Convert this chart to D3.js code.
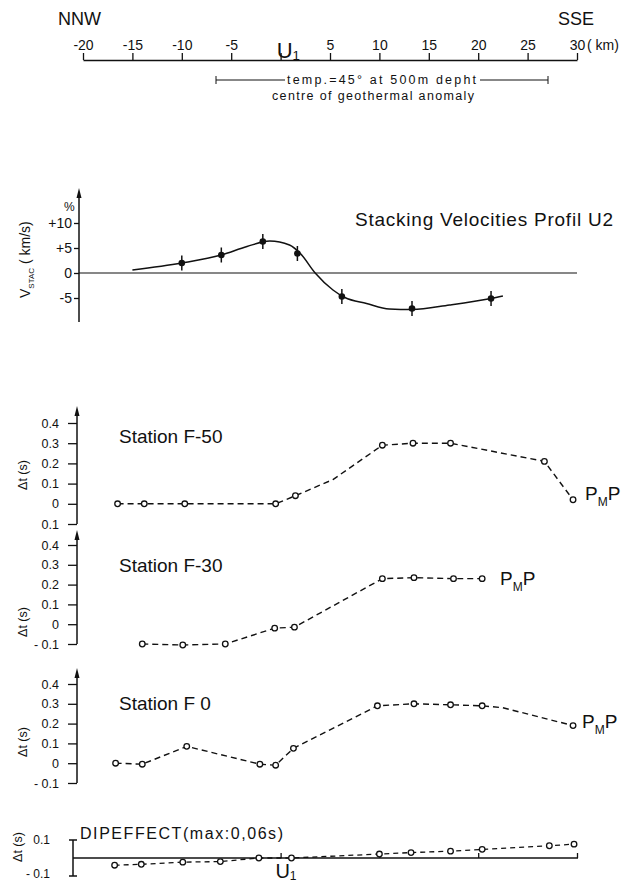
<!DOCTYPE html>
<html>
<head>
<meta charset="utf-8">
<script src="https://cdn.jsdelivr.net/npm/d3@7"></script>
<style>
  body { margin: 0; background: #fff; }
  text { font-family: "Liberation Sans", Arial, sans-serif; fill: #111; }
</style>
</head>
<body>
<div id="chart"></div>
<script>
const width = 629
const height = 883

// profile distance (km) along NNW-SSE line
const topTicks = [-20, -15, -10, -5, 0, 5, 10, 15, 20, 25, 30]
const topLabels = ["-20", "-15", "-10", "-5", "U1", "5", "10", "15", "20", "25", "30"]

// stacking velocities (%)
const stacKm = [-10, -6, -1.8, 1.7, 6.2, 13.3, 21.3]
const stacVel = [2.0, 3.6, 6.3, 3.9, -4.7, -7.1, -5.1]
const stacErr = [1.5, 1.5, 1.5, 1.5, 1.5, 1.5, 1.5]
const stacCurveKm = [-15, -10, -6, -3.4, -1.1, 0.9, 2, 3.5, 5.3, 6.5, 8.7, 11, 13.3, 17.1, 21.3, 22.5]
const stacCurveVel = [0.6, 2.0, 3.6, 5.3, 6.4, 5.6, 3.9, 0, -3.4, -4.9, -6.1, -7.2, -7.3, -6.4, -5.1, -4.6]
const stacTicks = [10, 5, 0, -5]
const stacLabels = ["+10", "+5", "0", "-5"]

// travel time delays (s)
const dtTicks = [0.4, 0.3, 0.2, 0.1, 0, -0.1]
const f50Km = [-16.5, -13.8, -9.7, -0.5, 1.5, 5.3, 10.3, 13.4, 17.2, 26.7, 29.6]
const f50Dt = [0, 0, 0, 0, 0.04, 0.12, 0.29, 0.30, 0.30, 0.21, 0.02]
const f50Mark = [1, 1, 1, 1, 1, 0, 1, 1, 1, 1, 1]

const f30Km = [-14, -9.9, -5.6, -0.6, 1.4, 10.3, 13.5, 17.5, 20.4]
const f30Dt = [-0.10, -0.105, -0.10, -0.02, -0.015, 0.23, 0.235, 0.23, 0.23]
const f30Mark = [1, 1, 1, 1, 1, 1, 1, 1, 1]

const f0Km = [-16.7, -14, -9.5, -2.1, -0.5, 1.3, 9.8, 13.5, 17.2, 20.4, 22.5, 29.6]
const f0Dt = [0, -0.005, 0.085, -0.005, -0.01, 0.075, 0.29, 0.30, 0.295, 0.29, 0.28, 0.19]
const f0Mark = [1, 1, 1, 1, 1, 1, 1, 1, 1, 1, 0, 1]

const dipKm = [-16.8, -14.1, -9.9, -6.1, -2.2, 1.1, 10, 13.2, 17.2, 20.4, 27.2, 29.7]
const dipDt = [-0.04, -0.035, -0.023, -0.02, 0.0, 0.0, 0.022, 0.03, 0.038, 0.048, 0.068, 0.077]

const svg = d3.select("#chart")
  .append("svg")
    .attr("width", width)
    .attr("height", height)

const x = d3.scaleLinear().domain([-20, 30]).range([83, 577])

// ---------- top distance axis ----------
svg.append("text").attr("x", 58).attr("y", 25).style("font-size", "18px").text("NNW")
svg.append("text").attr("x", 558).attr("y", 25).style("font-size", "18px").text("SSE")

const topAxis = svg.append("g")
  .attr("transform", "translate(0,60)")
  .call(d3.axisTop(x).tickValues(topTicks).tickSize(7).tickSizeOuter(0).tickPadding(3)
    .tickFormat((d, i) => topLabels[i] == "U1" ? "" : topLabels[i]))
topAxis.selectAll("text").style("font-size", "14px").attr("fill", "#111")
topAxis.selectAll("line, path").attr("stroke", "#111").attr("stroke-width", 1.3)

function uLabel(g, cx, base, size) {
  const t = g.append("text").attr("x", cx - size * 0.36).attr("y", base).style("font-size", size + "px")
  t.append("tspan").text("U")
  t.append("tspan").attr("dy", 2).style("font-size", (size * 0.6) + "px").text("1")
}
uLabel(svg, x(0) + 4, 58, 22)
svg.append("text").attr("x", 587).attr("y", 50).style("font-size", "14px").text("( km)")

// geothermal anomaly bar
const bar = svg.append("g").attr("stroke", "#111").attr("stroke-width", 1)
bar.append("line").attr("x1", 216).attr("x2", 285).attr("y1", 80).attr("y2", 80)
bar.append("line").attr("x1", 480).attr("x2", 548).attr("y1", 80).attr("y2", 80)
bar.append("line").attr("x1", 216).attr("x2", 216).attr("y1", 76).attr("y2", 84)
bar.append("line").attr("x1", 548).attr("x2", 548).attr("y1", 76).attr("y2", 84)
svg.append("text").attr("x", 287).attr("y", 84).style("font-size", "12.5px")
  .attr("textLength", 189).attr("lengthAdjust", "spacing").text("temp.=45° at 500m depht")
svg.append("text").attr("x", 272).attr("y", 100).style("font-size", "12.5px")
  .attr("textLength", 202).attr("lengthAdjust", "spacing").text("centre of geothermal anomaly")

// ---------- arrow helper ----------
function yArrowAxis(xPos, yTop, yBottom) {
  svg.append("line").attr("x1", xPos).attr("x2", xPos).attr("y1", yTop + 4).attr("y2", yBottom)
    .attr("stroke", "#111").attr("stroke-width", 1.5)
  svg.append("path")
    .attr("d", d3.line()([[xPos - 2.5, yTop + 10], [xPos, yTop], [xPos + 2.5, yTop + 10]]) + "Z")
    .attr("fill", "#111")
}

// ---------- stacking velocities ----------
const yS = d3.scaleLinear().domain([-5, 10]).range([298, 223])
yArrowAxis(79, 188, 322)
const sAxis = svg.append("g").attr("transform", "translate(79,0)")
  .call(d3.axisLeft(yS).tickValues(stacTicks).tickSize(5).tickPadding(2)
    .tickFormat((d, i) => stacLabels[i]))
sAxis.select(".domain").remove()
sAxis.selectAll("text").style("font-size", "14px").attr("fill", "#111")
sAxis.selectAll("line").attr("stroke", "#111").attr("stroke-width", 1.3)
svg.append("text").attr("x", 64).attr("y", 211).style("font-size", "12px").text("%")

svg.append("line").attr("x1", 79).attr("x2", 577).attr("y1", yS(0)).attr("y2", yS(0))
  .attr("stroke", "#111").attr("stroke-width", 1.2)

const vlab = svg.append("text").attr("transform", "translate(30,298) rotate(-90)").style("font-size", "14px")
vlab.append("tspan").text("V")
vlab.append("tspan").attr("dy", 4).style("font-size", "8px").text("STAC")
vlab.append("tspan").attr("dy", -4).text("   ( km/s)")

svg.append("text").attr("x", 355).attr("y", 226).style("font-size", "19px")
  .attr("textLength", 258).attr("lengthAdjust", "spacing").text("Stacking Velocities Profil U2")

const curveData = stacCurveKm.map((k, i) => [k, stacCurveVel[i]])
svg.append("path").datum(curveData)
  .attr("d", d3.line().x(d => x(d[0])).y(d => yS(d[1])).curve(d3.curveMonotoneX))
  .attr("fill", "none").attr("stroke", "#111").attr("stroke-width", 1.5)

const stacPts = stacKm.map((k, i) => ({ km: k, v: stacVel[i], e: stacErr[i] }))
svg.append("g").selectAll("line").data(stacPts).join("line")
  .attr("x1", d => x(d.km)).attr("x2", d => x(d.km))
  .attr("y1", d => yS(d.v + d.e)).attr("y2", d => yS(d.v - d.e))
  .attr("stroke", "#111").attr("stroke-width", 1.5)
svg.append("g").selectAll("circle").data(stacPts).join("circle")
  .attr("cx", d => x(d.km)).attr("cy", d => yS(d.v)).attr("r", 3.3).attr("fill", "#111")

// ---------- station panels ----------
function pmp(px, base) {
  const t = svg.append("text").attr("x", px).attr("y", base).style("font-size", "19px")
  t.append("tspan").text("P")
  t.append("tspan").attr("dy", 6).style("font-size", "12px").text("M")
  t.append("tspan").attr("dy", -6).text("P")
}

function station(km, dt, mark, yBottom, yTop, arrowTop, axisBottom, title, titleBase, tickFmt, labY, pmpPos) {
  const y = d3.scaleLinear().domain([-0.1, 0.4]).range([yBottom, yTop])
  yArrowAxis(77, arrowTop, axisBottom)
  const ax = svg.append("g").attr("transform", "translate(77,0)")
    .call(d3.axisLeft(y).tickValues(dtTicks).tickSize(9).tickPadding(9).tickFormat(tickFmt))
  ax.select(".domain").remove()
  ax.selectAll("text").style("font-size", "12.5px").attr("fill", "#111")
  ax.selectAll("line").attr("stroke", "#111").attr("stroke-width", 1.3)

  svg.append("text").attr("transform", `translate(27,${labY}) rotate(-90)`)
    .attr("text-anchor", "middle").style("font-size", "12.5px").text("Δt (s)")
  svg.append("text").attr("x", 119).attr("y", titleBase).style("font-size", "19px").text(title)

  const pts = km.map((k, i) => ({ km: k, dt: dt[i], m: mark[i] }))
  svg.append("path").datum(pts)
    .attr("d", d3.line().x(d => x(d.km)).y(d => y(d.dt)))
    .attr("fill", "none").attr("stroke", "#111").attr("stroke-width", 1.4)
    .attr("stroke-dasharray", "6,4")
  svg.append("g").selectAll("circle").data(pts.filter(d => d.m)).join("circle")
    .attr("cx", d => x(d.km)).attr("cy", d => y(d.dt)).attr("r", 2.8)
    .attr("fill", "#fff").attr("stroke", "#111").attr("stroke-width", 1.3)
  pmp(pmpPos[0], pmpPos[1])
}

const fmtPlain = d => d == 0 ? "0" : d3.format(".1f")(Math.abs(d))
const fmtSigned = d => d == 0 ? "0" : (d < 0 ? "- " : "") + d3.format(".1f")(Math.abs(d))

station(f50Km, f50Dt, f50Mark, 524, 423, 406, 524, "Station F-50", 443, fmtPlain, 475, [585, 500])
station(f30Km, f30Dt, f30Mark, 644, 545, 530, 644, "Station F-30", 572, fmtSigned, 622, [500, 585])
station(f0Km, f0Dt, f0Mark, 783, 684, 668, 783, "Station F 0", 710, fmtSigned, 742, [582, 728])

// ---------- dip effect ----------
const yD = d3.scaleLinear().domain([-0.1, 0.1]).range([876, 840])
const dip = svg.append("g").attr("stroke", "#111").attr("stroke-width", 1.5)
dip.append("line").attr("x1", 73).attr("x2", 73).attr("y1", yD(0.1)).attr("y2", yD(-0.1))
dip.append("line").attr("x1", 69).attr("x2", 77).attr("y1", yD(0.1)).attr("y2", yD(0.1))
dip.append("line").attr("x1", 69).attr("x2", 77).attr("y1", yD(-0.1)).attr("y2", yD(-0.1))
dip.append("line").attr("x1", 73).attr("x2", 578).attr("y1", yD(0)).attr("y2", yD(0))
const dipAxis = svg.append("g").attr("transform", `translate(0,${yD(0)})`)
  .call(d3.axisTop(x).tickValues([0, 10, 20, 30]).tickSize(5).tickSizeOuter(0).tickFormat(""))
dipAxis.select(".domain").remove()
dipAxis.selectAll("line").attr("stroke", "#111").attr("stroke-width", 1.3)

svg.append("text").attr("x", 50).attr("y", yD(0.1) + 4).attr("text-anchor", "end").style("font-size", "12px").text("0.1")
svg.append("text").attr("x", 50).attr("y", yD(-0.1) + 2).attr("text-anchor", "end").style("font-size", "12px").text("- 0.1")
svg.append("text").attr("transform", "translate(22,847) rotate(-90)")
  .attr("text-anchor", "middle").style("font-size", "12.5px").text("Δt (s)")
svg.append("text").attr("x", 80).attr("y", 839).style("font-size", "16px")
  .attr("textLength", 203).attr("lengthAdjust", "spacing").text("DIPEFFECT(max:0,06s)")

const dipPts = dipKm.map((k, i) => ({ km: k, dt: dipDt[i] }))
svg.append("path").datum(dipPts)
  .attr("d", d3.line().x(d => x(d.km)).y(d => yD(d.dt)))
  .attr("fill", "none").attr("stroke", "#111").attr("stroke-width", 1.3)
  .attr("stroke-dasharray", "5,4")
svg.append("g").selectAll("circle").data(dipPts).join("circle")
  .attr("cx", d => x(d.km)).attr("cy", d => yD(d.dt)).attr("r", 2.8)
  .attr("fill", "#fff").attr("stroke", "#111").attr("stroke-width", 1.3)
uLabel(svg, x(0) + 2, 878, 20)
</script>
</body>
</html>
